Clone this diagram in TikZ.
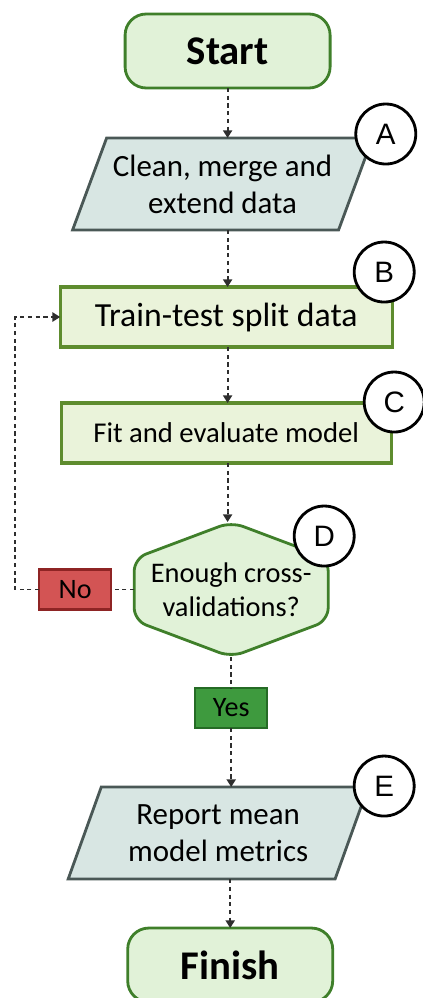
\documentclass[tikz,border=0pt]{standalone}
\usepackage{fontspec}
\setmainfont{Carlito}
\newfontfamily\badgefont{Liberation Sans}
\usetikzlibrary{arrows.meta, positioning, shapes.geometric, calc, backgrounds}

\definecolor{termfill}{HTML}{E1F2D8}
\definecolor{termline}{HTML}{3F7F2A}
\definecolor{iofill}{HTML}{D8E6E3}
\definecolor{ioline}{HTML}{4A5856}
\definecolor{procfill}{HTML}{EAF3DA}
\definecolor{procline}{HTML}{5E8C2E}
\definecolor{nofill}{HTML}{D35454}
\definecolor{noline}{HTML}{8E2424}
\definecolor{yesfill}{HTML}{3E9A3E}
\definecolor{yesline}{HTML}{256B25}
\definecolor{arrowgray}{HTML}{2E2E2E}

\begin{document}
\begin{tikzpicture}[>={Triangle[length=5.5pt, width=6.5pt]}, node distance=1.4cm,
    every node/.append style={outer sep=0pt}]
  \tikzset{
    term/.style={draw=termline, fill=termfill, line width=2pt,
      rounded corners=15pt, minimum width=5.125cm, minimum height=1.85cm,
      font=\bfseries\fontsize{29}{34}\selectfont},
    io/.style={trapezium, trapezium left angle=60, trapezium right angle=120,
      trapezium stretches body, draw=ioline, fill=iofill, line width=2pt,
      minimum width=7.5cm, minimum height=2.3cm, inner sep=0pt,
      align=center, font=\fontsize{22}{26.5}\selectfont},
    proc/.style={rectangle, draw=procline, fill=procfill, line width=2.2pt,
      minimum width=8.3cm, minimum height=1.5cm},
    hexa/.style={draw=termline, fill=termfill, line width=2pt,
      rounded corners=9pt},
    answer/.style={rectangle, line width=1.5pt, minimum width=1.8cm,
      minimum height=1cm, inner sep=0pt, font=\fontsize{20}{24}\selectfont},
    badge/.style={circle, draw=black, fill=white, line width=2pt,
      minimum size=1.5cm, inner sep=0pt,
      font=\badgefont\fontsize{21}{25}\selectfont},
    arr/.style={->, line width=1.3pt, draw=arrowgray,
      dash pattern=on 3pt off 2.5pt},
    link/.style={arr, -},
  }
  \useasboundingbox (0,0) rectangle (10.55,-24.95);

  % main column
  \node[term] (start) at (5.69,-1.275) {Start};
  \node[io, below=1.25cm of start, xshift=-0.125cm] (clean)
    {Clean, merge and\\extend data};
  \node[proc, below=1.425cm of clean, xshift=0.09cm,
        font=\fontsize{24}{29}\selectfont] (split) {Train-test split data};
  \node[proc, below=1.4cm of split, minimum width=8.25cm,
        font=\fontsize{20.4}{24}\selectfont] (fit) {Fit and evaluate model};
  \node[align=center, minimum width=4.85cm, minimum height=3.375cm,
        below=1.475cm of fit, xshift=0.125cm,
        font=\fontsize{20.2}{24.5}\selectfont] (dec)
    {Enough cross-\\validations?};
  \node[answer, draw=yesline, fill=yesfill, below=0.775cm of dec] (yes) {Yes};
  \node[io, below=1.475cm of yes, xshift=-0.325cm] (report)
    {Report mean\\model metrics};
  \node[term, below=1.225cm of report, xshift=0.3cm] (finish) {Finish};
  \node[answer, draw=noline, fill=nofill, left=0.575cm of dec] (no) {No};

  % decision outline
  \begin{scope}[on background layer]
    \draw[hexa] (dec.north)
      -- ($(dec.north east)!0.27!(dec.south east)$)
      -- ($(dec.north east)!0.73!(dec.south east)$)
      -- (dec.south)
      -- ($(dec.north west)!0.73!(dec.south west)$)
      -- ($(dec.north west)!0.27!(dec.south west)$)
      -- cycle;
  \end{scope}

  % flow
  \draw[arr] (start.south) -- (clean.north -| start);
  \draw[arr] (clean.south -| start) -- (split.north -| start);
  \draw[arr] (split.south -| start) -- (fit.north -| start);
  \draw[arr] (fit.south -| start) -- (dec.north -| start);
  \draw[link] (dec.south) -- (yes.north);
  \draw[arr] (yes.south) -- (yes.south |- report.north);
  \draw[arr] (report.south -| finish) -- (finish.north);
  \draw[link] (dec.west) -- (no.east);
  \draw[arr] (no.west) -- ++(-0.6,0) |- (split.west);

  % step badges
  \node[badge] (bA) at ([shift={(0.33,0.1)}]clean.top right corner) {A};
  \node[badge] (bB) at ([shift={(-0.2,0.375)}]split.north east) {B};
  \node[badge] (bC) at ([shift={(0.075,0.025)}]fit.north east) {C};
  \node[badge] (bD) at ([shift={(-0.1,-0.35)}]dec.north east) {D};
  \node[badge] (bE) at ([shift={(0.4,0.025)}]report.top right corner) {E};
\end{tikzpicture}
\end{document}
